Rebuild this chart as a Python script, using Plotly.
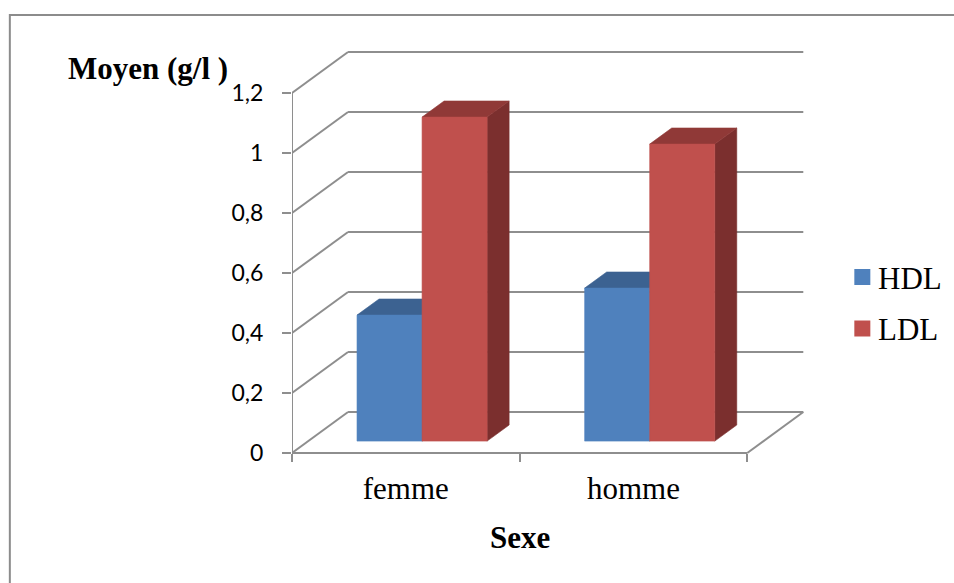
import plotly.graph_objects as go

# ---------------- data ----------------
categories = ["femme", "homme"]
series_names = ["HDL", "LDL"]
hdl_values = [0.42, 0.51]
ldl_values = [1.08, 0.99]
y_tick_values = [0, 0.2, 0.4, 0.6, 0.8, 1.0, 1.2]
y_tick_labels = ["0", "0,2", "0,4", "0,6", "0,8", "1", "1,2"]
y_title = "Moyen (g/l )"
x_title = "Sexe"

# ---------------- style / geometry ----------------
W, H = 954, 583
PX_CAT = 227.5      # px per category
PX_UNIT = 300.0     # px per 1.0 value
X0, XR = -0.5, 1.78
Y0, YT = -0.03, 1.37
LEFT = 292
ZERO_PX = 453
plot_w = (XR - X0) * PX_CAT
plot_top = ZERO_PX - YT * PX_UNIT
plot_bot = ZERO_PX - Y0 * PX_UNIT
plot_h = plot_bot - plot_top

DX = 56 / PX_CAT          # depth of the 3D wall in x units
DY = 41 / PX_UNIT         # depth of the 3D wall in y units
F0 = 0.29                 # bar front plane depth fraction
FD = 0.393                # bar depth fraction
BW = 65 / PX_CAT          # bar width (x units)

GRID = "#8e8e8e"
front_cols = ["#4F81BD", "#C0504D"]
top_cols = ["#3C6291", "#903937"]
side_cols = ["#36587F", "#7B2F2E"]
SERIF = "Liberation Serif, Times New Roman, serif"


def px_x(px):
    return (px - LEFT) / plot_w


def px_y(py):
    return (plot_bot - py) / plot_h


fig = go.Figure()

series_vals = [hdl_values, ldl_values]
base = F0 * DY
for i, cat in enumerate(categories):
    center = i + F0 * DX
    for s, vals in enumerate(series_vals):
        xl = center - BW + s * BW
        xr = xl + BW
        h = base + vals[i]
        ddx, ddy = FD * DX, FD * DY
        faces = [
            ([xr, xr, xr + ddx, xr + ddx, xr], [base, h, h + ddy, base + ddy, base], side_cols[s]),
            ([xl, xl + ddx, xr + ddx, xr, xl], [h, h + ddy, h + ddy, h, h], top_cols[s]),
            ([xl, xl, xr, xr, xl], [base, h, h, base, base], front_cols[s]),
        ]
        for fx, fy, col in faces:
            fig.add_trace(go.Scatter(
                x=fx, y=fy, mode="lines", fill="toself", fillcolor=col,
                line=dict(color=col, width=0.6), hoverinfo="skip", showlegend=False,
                name=series_names[s]))

# 3D walls / gridlines
shapes = []
x_back_right = len(categories) - 0.5 + DX
for v in y_tick_values:
    shapes.append(dict(type="line", xref="x", yref="y", x0=-0.5, y0=v, x1=-0.5 + DX, y1=v + DY,
                       line=dict(color=GRID, width=2), layer="below"))
    shapes.append(dict(type="line", xref="x", yref="y", x0=-0.5 + DX, y0=v + DY, x1=x_back_right, y1=v + DY,
                       line=dict(color=GRID, width=2), layer="below"))
# floor front and right edges
shapes.append(dict(type="line", xref="x", yref="y", x0=-0.5, y0=0, x1=len(categories) - 0.5, y1=0,
                   line=dict(color=GRID, width=2), layer="below"))
shapes.append(dict(type="line", xref="x", yref="y", x0=len(categories) - 0.5, y0=0, x1=x_back_right, y1=DY,
                   line=dict(color=GRID, width=2), layer="below"))
# front value axis line
shapes.append(dict(type="line", xref="x", yref="y", x0=-0.5, y0=0, x1=-0.5, y1=max(y_tick_values),
                   line=dict(color=GRID, width=2), layer="below"))
# outer chart border
shapes.append(dict(type="rect", xref="paper", yref="paper",
                   x0=px_x(10), y0=px_y(640), x1=px_x(1000), y1=px_y(15),
                   line=dict(color="#8c8c8c", width=2), fillcolor="rgba(0,0,0,0)", layer="below"))

annotations = [
    dict(text="<b>" + y_title + "</b>", xref="paper", yref="paper", x=px_x(66), y=px_y(68),
         xanchor="left", yanchor="middle", showarrow=False,
         font=dict(family=SERIF, size=31, color="black")),
    dict(text="<b>" + x_title + "</b>", xref="paper", yref="paper", x=px_x(520), y=px_y(537),
         xanchor="center", yanchor="middle", showarrow=False,
         font=dict(family=SERIF, size=31, color="black")),
]

# legend (drawn manually so that it does not push the plot margins)
LEG_X, LEG_Y0, LEG_STEP, LEG_SQ = 854, 277, 51.5, 16
for s, name in enumerate(series_names):
    cy = LEG_Y0 + s * LEG_STEP
    shapes.append(dict(type="rect", xref="paper", yref="paper",
                       x0=px_x(LEG_X), x1=px_x(LEG_X + LEG_SQ),
                       y0=px_y(cy + LEG_SQ / 2), y1=px_y(cy - LEG_SQ / 2),
                       line=dict(width=0), fillcolor=front_cols[s]))
    annotations.append(dict(text=name, xref="paper", yref="paper", x=px_x(876), y=px_y(cy + 1),
                            xanchor="left", yanchor="middle", showarrow=False,
                            font=dict(family=SERIF, size=31, color="black")))

fig.update_layout(
    width=W, height=H,
    margin=dict(l=LEFT, r=W - LEFT - plot_w, t=plot_top, b=H - plot_bot, pad=0),
    paper_bgcolor="white", plot_bgcolor="rgba(0,0,0,0)",
    shapes=shapes, annotations=annotations,
    showlegend=False,
    xaxis=dict(range=[X0, XR], showgrid=False, zeroline=False, showline=False,
               tickmode="array", tickvals=list(range(len(categories))), ticktext=categories,
               ticks="", tickfont=dict(family=SERIF, size=31, color="black"),
               anchor="free", position=(0 - Y0) / (YT - Y0),
               minor=dict(tickmode="linear", tick0=-0.5, dtick=1, ticks="outside",
                          ticklen=8, tickwidth=2, tickcolor=GRID, showgrid=False),
               ticklabelstandoff=14, fixedrange=True),
    yaxis=dict(range=[Y0, YT], showgrid=False, zeroline=False, showline=False,
               tickmode="array", tickvals=y_tick_values, ticktext=y_tick_labels,
               ticks="outside", ticklen=9, tickwidth=2, tickcolor=GRID,
               tickfont=dict(family="Lato, Carlito, sans-serif", size=23, color="black"),
               ticklabelstandoff=14, fixedrange=True),
)

fig.write_html("out.html", config={"displayModeBar": False},
               post_script="document.body.style.margin='0';document.body.style.overflow='hidden';")
